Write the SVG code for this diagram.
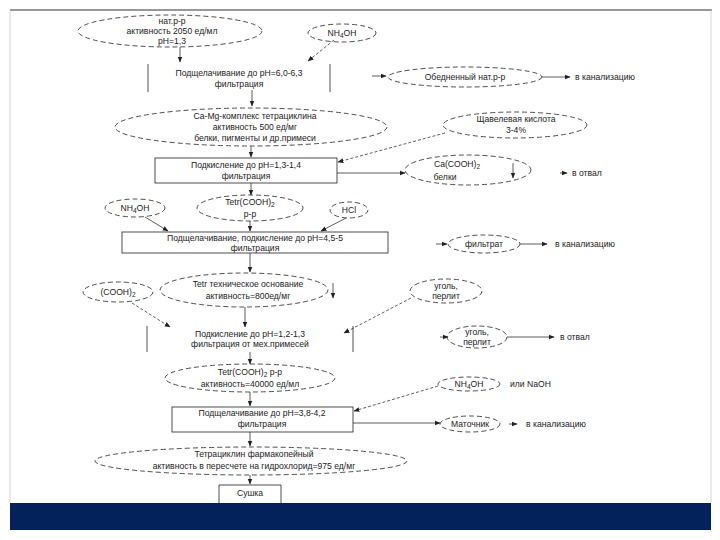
<svg xmlns="http://www.w3.org/2000/svg" width="720" height="540" viewBox="0 0 720 540">
<defs>
<marker id="ah" viewBox="0 0 10 10" refX="9" refY="5" markerWidth="6" markerHeight="6" orient="auto" markerUnits="userSpaceOnUse">
<path d="M0,1 L10,5 L0,9 z" fill="#222"/>
</marker>
</defs>
<style>
text{font-family:"Liberation Sans",Arial,sans-serif;font-size:8.6px;fill:#222;text-anchor:middle}
.l{text-anchor:start}
.el{fill:none;stroke:#222;stroke-width:0.8;stroke-dasharray:5 3}
.bx{fill:none;stroke:#222;stroke-width:0.8}
.c{fill:none;stroke:#333;stroke-width:0.8}
.d{fill:none;stroke:#333;stroke-width:0.8;stroke-dasharray:3 2}
.sub{font-size:6.5px}
</style>
<rect x="0" y="0" width="720" height="540" fill="#fff"/>
<line x1="10" y1="10" x2="712" y2="10" stroke="#333" stroke-width="1.2"/>
<line x1="10" y1="10" x2="10" y2="503" stroke="#ccc" stroke-width="0.8"/>
<line x1="711" y1="10" x2="711" y2="503" stroke="#ccc" stroke-width="0.8"/>
<rect x="10" y="503" width="701" height="27" fill="#03215a"/>

<g id="connectors">
<line class="c" x1="180" y1="47" x2="180" y2="62" marker-end="url(#ah)"/>
<line class="d" x1="334" y1="40" x2="308" y2="61" marker-end="url(#ah)"/>
<line class="c" x1="372" y1="76" x2="386" y2="76" marker-end="url(#ah)"/>
<line class="c" x1="542" y1="77" x2="570" y2="77" marker-end="url(#ah)"/>
<line class="c" x1="252" y1="90" x2="252" y2="106" marker-end="url(#ah)"/>
<line class="c" x1="251" y1="146" x2="251" y2="157" marker-end="url(#ah)"/>
<line class="d" x1="445" y1="133" x2="338" y2="162" marker-end="url(#ah)"/>
<line class="c" x1="337" y1="173" x2="405" y2="173" marker-end="url(#ah)"/>
<line class="c" x1="513" y1="163" x2="513" y2="178" marker-end="url(#ah)"/>
<line class="c" x1="560" y1="173" x2="567" y2="173" marker-end="url(#ah)"/>
<line class="c" x1="251" y1="183" x2="251" y2="195" marker-end="url(#ah)"/>
<line class="c" x1="145" y1="217" x2="168" y2="231" marker-end="url(#ah)"/>
<line class="c" x1="250" y1="221" x2="250" y2="231" marker-end="url(#ah)"/>
<line class="c" x1="346" y1="218" x2="321" y2="231" marker-end="url(#ah)"/>
<line class="c" x1="436" y1="244" x2="447" y2="244" marker-end="url(#ah)"/>
<line class="c" x1="520" y1="244" x2="547" y2="244" marker-end="url(#ah)"/>
<line class="c" x1="250" y1="253" x2="250" y2="272" marker-end="url(#ah)"/>
<line class="c" x1="333" y1="283" x2="333" y2="298" marker-end="url(#ah)"/>
<line class="d" x1="132" y1="303" x2="170" y2="327" marker-end="url(#ah)"/>
<line class="c" x1="245" y1="307" x2="245" y2="327" marker-end="url(#ah)"/>
<line class="d" x1="411" y1="298" x2="344" y2="333" marker-end="url(#ah)"/>
<line class="c" x1="440" y1="337" x2="448" y2="337" marker-end="url(#ah)"/>
<line class="c" x1="507" y1="337" x2="554" y2="337" marker-end="url(#ah)"/>
<line class="c" x1="250" y1="352" x2="250" y2="364" marker-end="url(#ah)"/>
<line class="c" x1="250" y1="392" x2="250" y2="406" marker-end="url(#ah)"/>
<line class="d" x1="438" y1="386" x2="354" y2="411" marker-end="url(#ah)"/>
<line class="c" x1="353" y1="423" x2="440" y2="423" marker-end="url(#ah)"/>
<line class="c" x1="509" y1="424" x2="517" y2="424" marker-end="url(#ah)"/>
<line class="c" x1="250" y1="432" x2="250" y2="446" marker-end="url(#ah)"/>
<line class="c" x1="250" y1="475" x2="250" y2="484" marker-end="url(#ah)"/>
</g>

<g id="n1"><ellipse class="el" cx="170" cy="31" rx="92" ry="16"/>
<text x="172" y="24">нат.р-р</text><text x="172" y="34">активность 2050 ед/мл</text><text x="172" y="44">pH=1,3</text></g>
<g id="n2"><ellipse class="el" cx="342" cy="33" rx="34" ry="9"/>
<text x="342" y="36">NH<tspan class="sub" dy="2">4</tspan><tspan dy="-2">OH</tspan></text></g>
<g id="n3"><line class="bx" x1="148" y1="64" x2="148" y2="92"/><line class="bx" x1="330" y1="64" x2="330" y2="92"/>
<text x="239" y="76">Подщелачивание до pH=6,0-6,3</text><text x="239" y="87">фильтрация</text></g>
<g id="n4"><ellipse class="el" cx="465" cy="77" rx="77" ry="10"/>
<text x="465" y="80">Обедненный нат.р-р</text></g>
<text class="l" x="575" y="80">в канализацию</text>
<g id="n5"><ellipse class="el" cx="251" cy="127" rx="136" ry="19"/>
<text x="255" y="119">Ca-Mg-комплекс тетрациклина</text><text x="255" y="130">активность 500 ед/мг</text><text x="255" y="141">белки, пигменты и др.примеси</text></g>
<g id="n6"><ellipse class="el" cx="515" cy="125" rx="72" ry="13"/>
<text x="516" y="122">Щавелевая кислота</text><text x="516" y="133">3-4%</text></g>
<g id="n7"><rect class="bx" x="155" y="158" width="182" height="25"/>
<text x="246" y="168">Подкисление до pH=1,3-1,4</text><text x="246" y="179">фильтрация</text></g>
<g id="n8"><ellipse class="el" cx="468" cy="170" rx="63" ry="15"/>
<text x="457" y="167">Ca(COOH)<tspan class="sub" dy="2">2</tspan></text><text x="445" y="180">белки</text></g>
<text class="l" x="572" y="176">в отвал</text>
<g id="n9"><ellipse class="el" cx="135" cy="208" rx="30" ry="9"/>
<text x="135" y="211">NH<tspan class="sub" dy="2">4</tspan><tspan dy="-2">OH</tspan></text></g>
<g id="n10"><ellipse class="el" cx="250" cy="208" rx="53" ry="13"/>
<text x="250" y="205">Tetr(COOH)<tspan class="sub" dy="2">2</tspan></text><text x="250" y="217">р-р</text></g>
<g id="n11"><ellipse class="el" cx="349" cy="210" rx="19" ry="8"/>
<text x="349" y="213">HCl</text></g>
<g id="n12"><rect class="bx" x="122" y="232" width="266" height="21"/>
<text x="255" y="241">Подщелачивание, подкисление до pH=4,5-5</text><text x="255" y="251">фильтрация</text></g>
<g id="n13"><ellipse class="el" cx="484" cy="244" rx="36" ry="9"/>
<text x="484" y="247">фильтрат</text></g>
<text class="l" x="555" y="247">в канализацию</text>
<g id="n14"><ellipse class="el" cx="118" cy="292" rx="35" ry="10"/>
<text x="118" y="295">(COOH)<tspan class="sub" dy="2">2</tspan></text></g>
<g id="n15"><ellipse class="el" cx="244" cy="290" rx="84" ry="17"/>
<text x="248" y="287">Tetr техническое основание</text><text x="248" y="299">активность=800ед/мг</text></g>
<g id="n16"><ellipse class="el" cx="446" cy="291" rx="36" ry="12"/>
<text x="446" y="289">уголь,</text><text x="446" y="299">перлит</text></g>
<g id="n17"><line class="bx" x1="147" y1="326" x2="147" y2="352"/><line class="bx" x1="353" y1="326" x2="353" y2="352"/>
<text x="250" y="337">Подкисление до pH=1,2-1,3</text><text x="250" y="347">фильтрация от мех.примесей</text></g>
<g id="n18"><ellipse class="el" cx="477" cy="337" rx="30" ry="11"/>
<text x="477" y="335">уголь,</text><text x="477" y="345">перлит</text></g>
<text class="l" x="560" y="340">в отвал</text>
<g id="n19"><ellipse class="el" cx="250" cy="378" rx="85" ry="14"/>
<text x="250" y="375">Tetr(COOH)<tspan class="sub" dy="2">2</tspan><tspan dy="-2"> р-р</tspan></text><text x="250" y="387">активность=40000 ед/мл</text></g>
<g id="n20"><ellipse class="el" cx="469" cy="384" rx="31" ry="7"/>
<text x="469" y="387">NH<tspan class="sub" dy="2">4</tspan><tspan dy="-2">OH</tspan></text></g>
<text class="l" x="510" y="387">или NaOH</text>
<g id="n21"><rect class="bx" x="172" y="407" width="181" height="25"/>
<text x="262" y="416">Подщелачивание до pH=3,8-4,2</text><text x="262" y="427">фильтрация</text></g>
<g id="n22"><ellipse class="el" cx="470" cy="424" rx="30" ry="8"/>
<text x="470" y="427">Маточник</text></g>
<text class="l" x="526" y="427">в канализацию</text>
<g id="n23"><ellipse class="el" cx="251" cy="461" rx="156" ry="14"/>
<text x="254" y="457">Тетрациклин фармакопейный</text><text x="254" y="469">активность в пересчете на гидрохлорид=975 ед/мг</text></g>
<g id="n24"><line class="bx" x1="219" y1="485" x2="281" y2="485"/><line class="bx" x1="219" y1="485" x2="219" y2="503"/><line class="bx" x1="281" y1="485" x2="281" y2="503"/>
<text x="250" y="496">Сушка</text></g>
</svg>
